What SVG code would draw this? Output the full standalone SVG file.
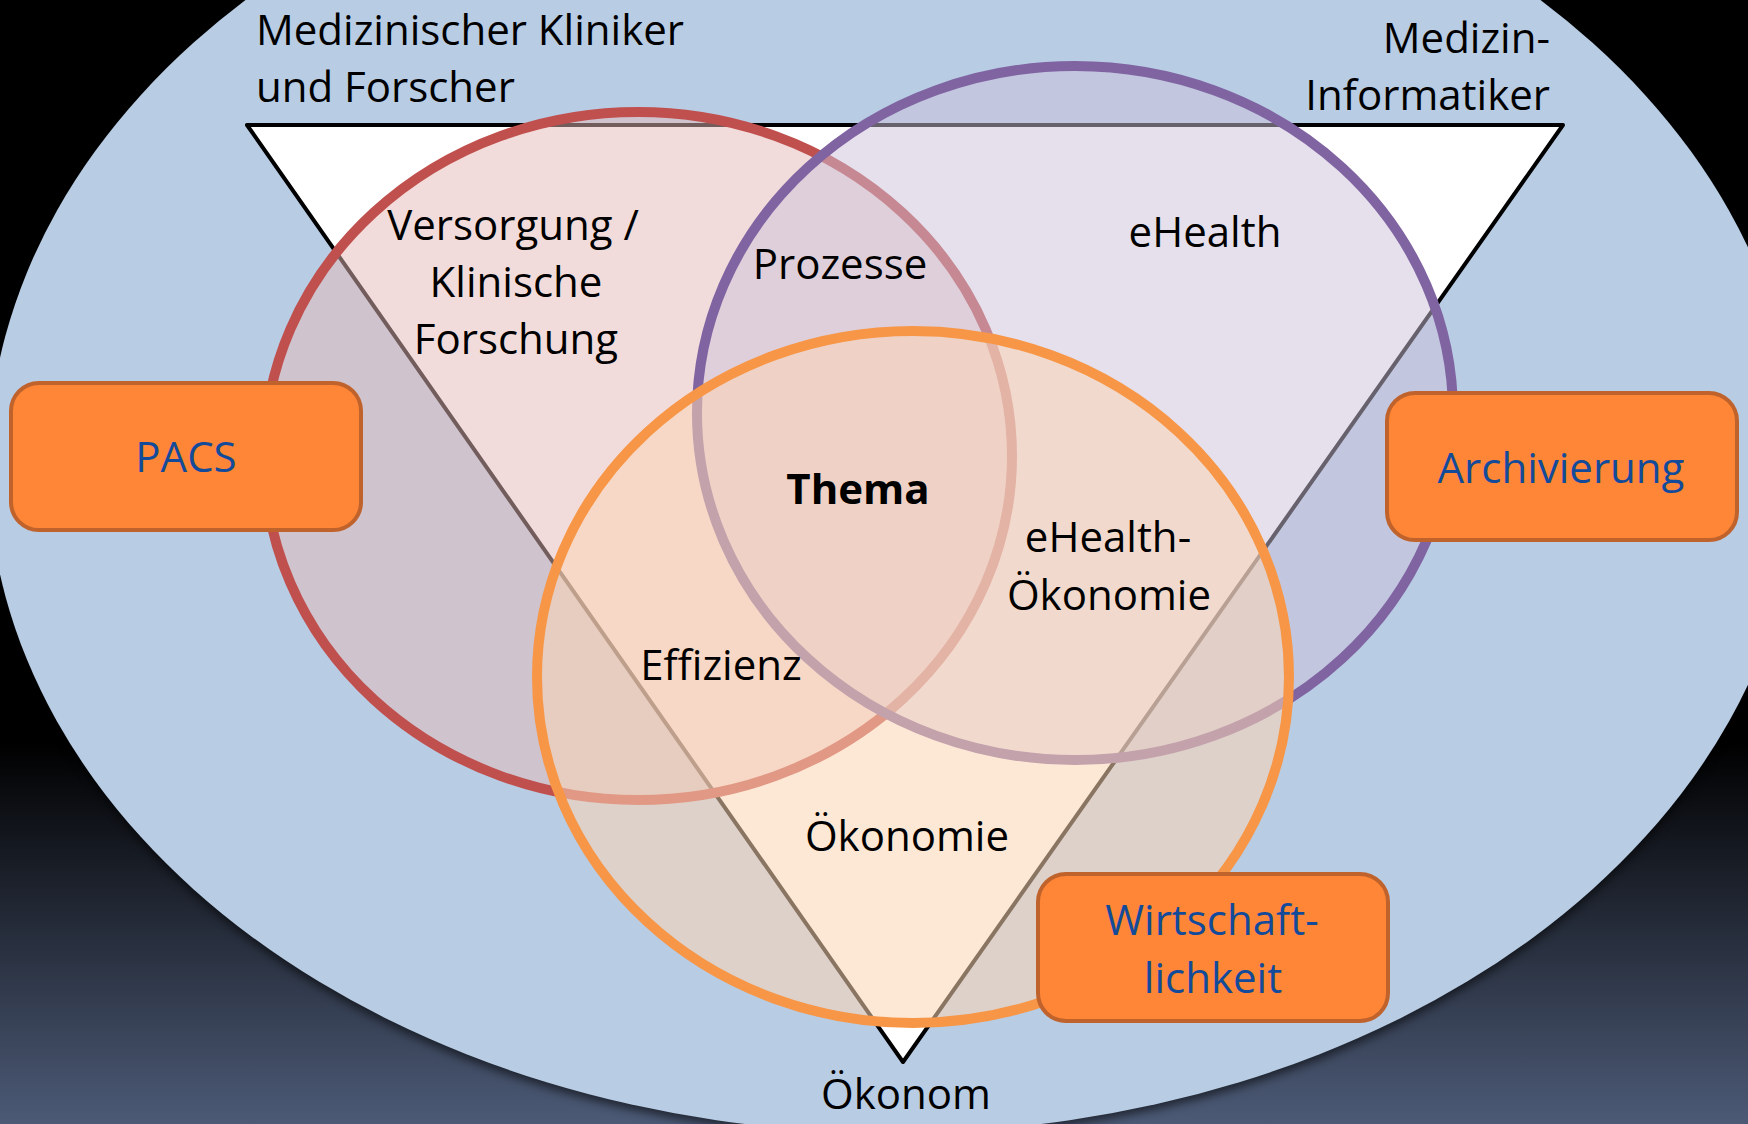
<svg xmlns="http://www.w3.org/2000/svg" width="1748" height="1124" viewBox="0 0 1748 1124">
  <defs>
    <linearGradient id="bg" x1="0" y1="0" x2="0" y2="1">
      <stop offset="0" stop-color="#000000"/>
      <stop offset="0.66" stop-color="#000000"/>
      <stop offset="1" stop-color="#4c5a76"/>
    </linearGradient>
    <filter id="shadow" x="-10%" y="-10%" width="120%" height="120%">
      <feGaussianBlur stdDeviation="5"/>
    </filter>
    <style>
      .lbl { font-family: "Open Sans", "Liberation Sans", sans-serif; font-size: 42px; fill: #000000; }
      .box rect { fill: #fe8636; stroke: #c0622b; stroke-width: 4; }
      .box text { font-family: "Open Sans", "Liberation Sans", sans-serif; font-size: 42px; fill: #134a9a; text-anchor: middle; }
      .set { stroke-width: 10; }
    </style>
  </defs>

  <rect x="0" y="0" width="1748" height="1124" fill="url(#bg)"/>

  <g id="field">
    <ellipse cx="893" cy="471" rx="905" ry="667" fill="#000000" opacity="0.55" filter="url(#shadow)"/>
    <ellipse cx="893" cy="466" rx="905" ry="667" fill="#b8cce4"/>
  </g>

  <g id="triangle">
    <polygon points="247,125 1563,125 903,1062" fill="#ffffff" stroke="#000000" stroke-width="4" stroke-linejoin="round"/>
  </g>

  <g id="set-versorgung">
    <ellipse class="set" cx="638" cy="456" rx="374" ry="344" fill="#e6b9b8" fill-opacity="0.5" stroke="#c0504d"/>
  </g>
  <g id="set-ehealth">
    <ellipse class="set" cx="1075" cy="413" rx="378" ry="347" fill="#ccc1da" fill-opacity="0.5" stroke="#8064a2"/>
  </g>
  <g id="set-oekonomie">
    <ellipse class="set" cx="913" cy="677" rx="376" ry="346" fill="#fbd5b5" fill-opacity="0.55" stroke="#f79646"/>
  </g>

  <g id="connectors"></g>

  <g id="role-kliniker">
    <text class="lbl" x="256" y="45">Medizinischer Kliniker</text>
    <text class="lbl" x="256" y="102">und Forscher</text>
  </g>
  <g id="role-informatiker">
    <text class="lbl" x="1550" y="53" text-anchor="end">Medizin-</text>
    <text class="lbl" x="1550" y="110" text-anchor="end">Informatiker</text>
  </g>
  <g id="role-oekonom">
    <text class="lbl" x="906" y="1109" text-anchor="middle">Ökonom</text>
  </g>

  <g id="area-versorgung">
    <text class="lbl" x="513" y="240" text-anchor="middle">Versorgung /</text>
    <text class="lbl" x="516" y="297" text-anchor="middle">Klinische</text>
    <text class="lbl" x="516" y="354" text-anchor="middle">Forschung</text>
  </g>
  <g id="area-prozesse">
    <text class="lbl" x="840" y="279" text-anchor="middle">Prozesse</text>
  </g>
  <g id="area-ehealth">
    <text class="lbl" x="1205" y="247" text-anchor="middle">eHealth</text>
  </g>
  <g id="area-thema">
    <text class="lbl" x="858" y="504" text-anchor="middle" font-weight="bold">Thema</text>
  </g>
  <g id="area-ehealth-oekonomie">
    <text class="lbl" x="1108" y="552" text-anchor="middle">eHealth-</text>
    <text class="lbl" x="1109" y="610" text-anchor="middle">Ökonomie</text>
  </g>
  <g id="area-effizienz">
    <text class="lbl" x="721" y="680" text-anchor="middle">Effizienz</text>
  </g>
  <g id="area-oekonomie">
    <text class="lbl" x="907" y="851" text-anchor="middle">Ökonomie</text>
  </g>

  <g id="box-pacs" class="box">
    <rect x="11" y="383" width="350" height="147" rx="28" ry="28"/>
    <text x="186" y="472">PACS</text>
  </g>
  <g id="box-archivierung" class="box">
    <rect x="1387" y="393" width="350" height="147" rx="28" ry="28"/>
    <text x="1561" y="483">Archivierung</text>
  </g>
  <g id="box-wirtschaftlichkeit" class="box">
    <rect x="1038" y="874" width="350" height="147" rx="28" ry="28"/>
    <text x="1212" y="935">Wirtschaft-</text>
    <text x="1213" y="993">lichkeit</text>
  </g>
</svg>
